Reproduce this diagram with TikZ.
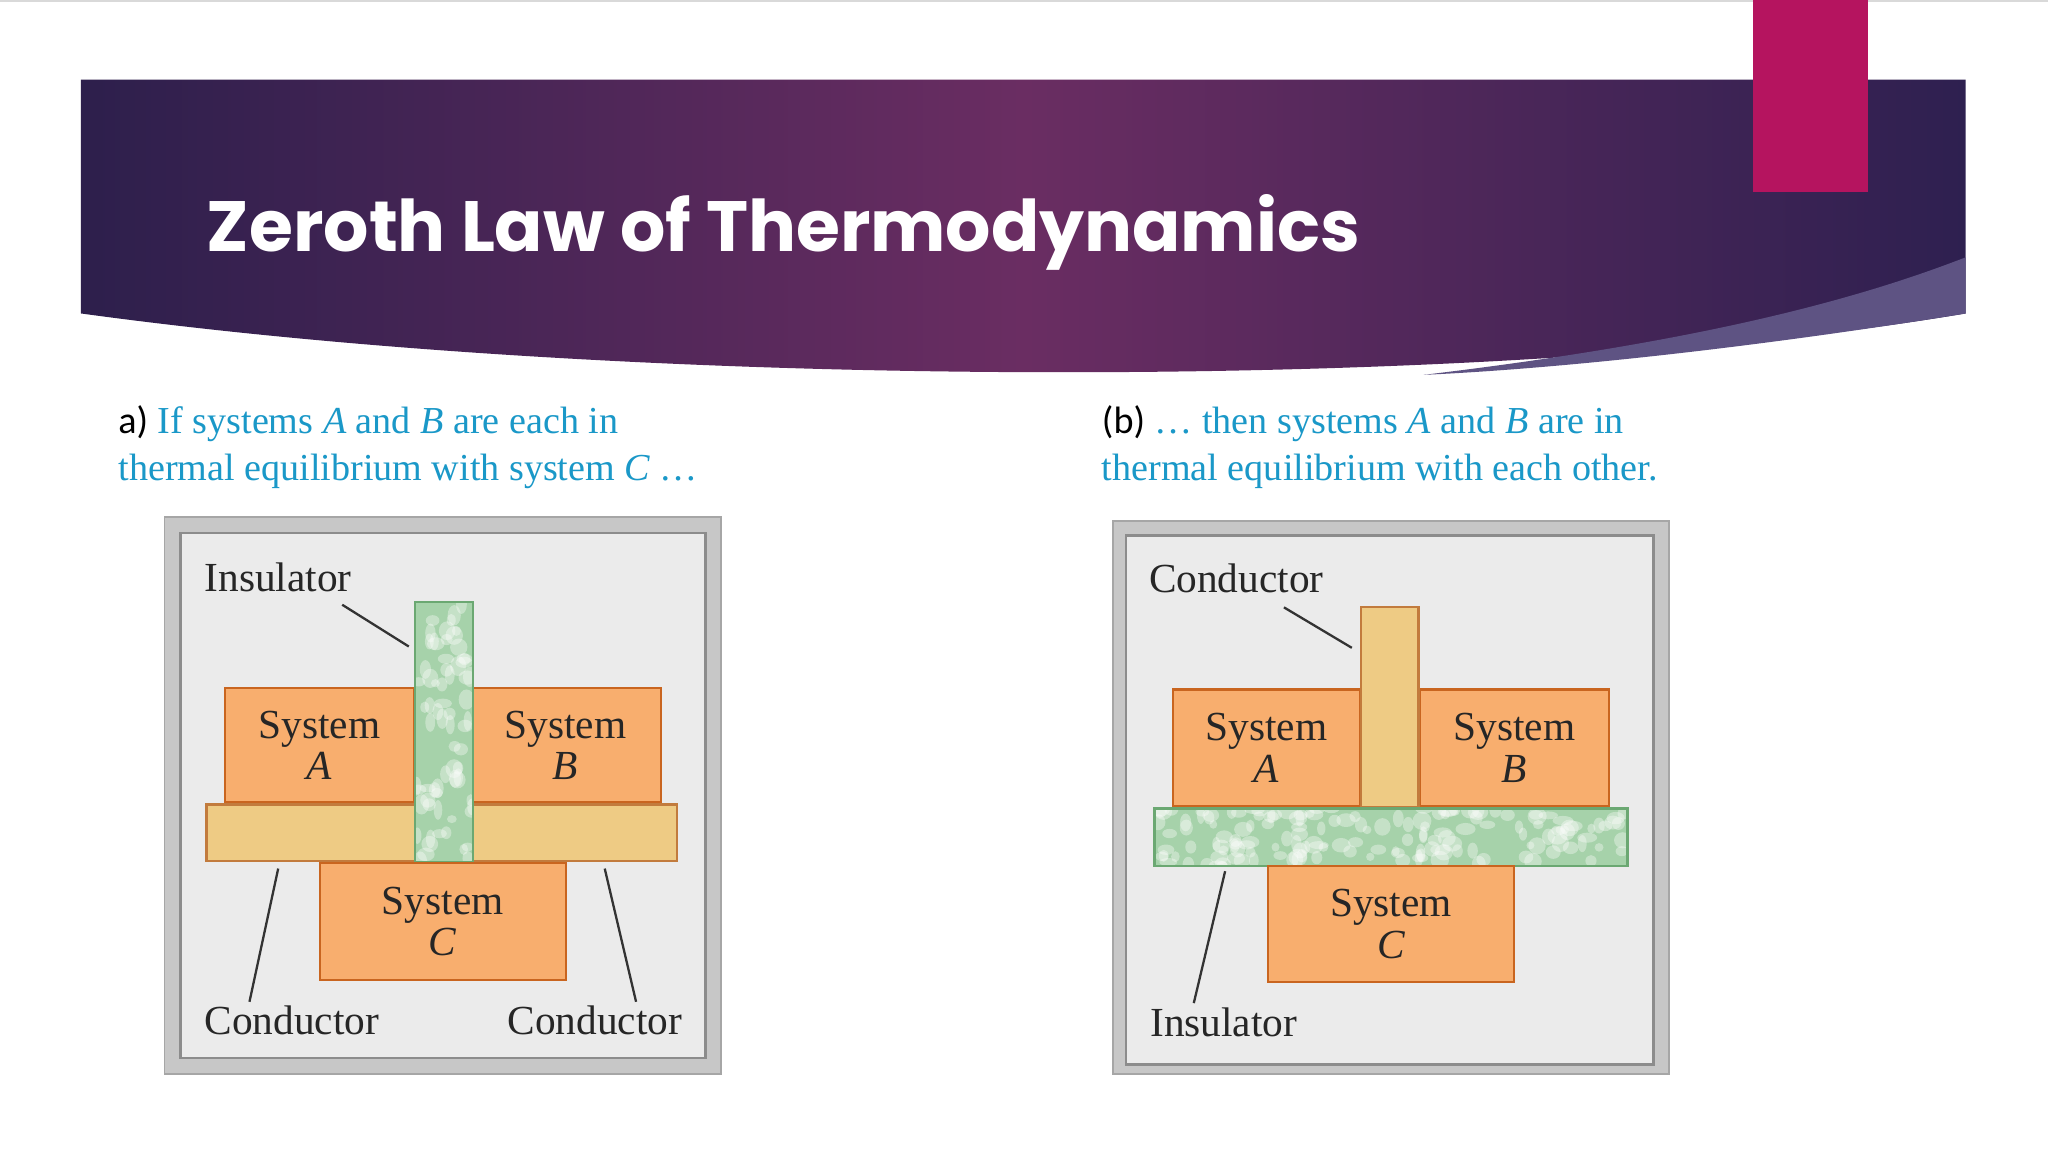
\documentclass[tikz,border=0pt]{standalone}
\usepackage{fontspec}
\setmainfont{Liberation Serif}
\newfontfamily\titlefont{Poppins}
\newfontfamily\calib{Carlito}
\begin{document}
\begin{tikzpicture}[x=0.01cm,y=-0.01cm,
  sysbox/.style={draw=sysedge,fill=sysfill,line width=0.5pt,outer sep=0pt,inner sep=0pt},
  condbar/.style={draw=condedge,fill=condfill,line width=0.5pt,outer sep=0pt,inner sep=0pt},
  insbar/.style={draw=insedge,fill=insfill,line width=0.5pt,outer sep=0pt,inner sep=0pt},
  syslabel/.style={font=\fontsize{9pt}{9pt}\selectfont,align=center,text=black!85},
  lbl/.style={font=\fontsize{9pt}{9pt}\selectfont,text=black!85,anchor=west,inner sep=0},
  leader/.style={draw=black!80,line width=0.5pt},
  captext/.style={font=\fontsize{8.3pt}{10.2pt}\selectfont,text=capblue,anchor=north west,align=left,inner sep=0},
  frameout/.style={fill=black!22,draw=black!35,line width=0.4pt},
  framein/.style={fill=black!8,draw=black!45,line width=0.6pt}]
\definecolor{sysfill}{HTML}{F8AE6E}
\definecolor{sysedge}{HTML}{C9651F}
\definecolor{condfill}{HTML}{EECB84}
\definecolor{condedge}{HTML}{C27B3D}
\definecolor{insfill}{HTML}{A6D2AA}
\definecolor{insedge}{HTML}{6BA872}
\definecolor{capblue}{HTML}{1A98C8}
\definecolor{bandL}{HTML}{2D1F4C}
\definecolor{bandM}{HTML}{6A2D62}
\definecolor{bandR}{HTML}{2E2050}
\definecolor{bandlight}{HTML}{5E5383}
\definecolor{magentabox}{HTML}{B5145F}
\useasboundingbox (0,0) rectangle (1568,882);
\fill[white] (0,0) rectangle (1568,882);
\draw[black!15] (0,0.5) -- (1568,0.5);
% banner
\shade[left color=bandL,right color=bandR,middle color=bandM]
  (62,61) -- (1505,61) -- (1505,240) .. controls (1150,300) and (500,300) .. (62,240) -- cycle;
\fill[bandlight] (1090,287) .. controls (1300,262) and (1420,230) .. (1505,197) -- (1505,240) .. controls (1350,265) and (1200,282) .. (1090,287) -- cycle;
\fill[magentabox] (1342,0) rectangle (1430,147);
\node[anchor=west,text=white,font=\titlefont\bfseries\fontsize{15.5pt}{18pt}\selectfont] (title) at (146,178) {Zeroth Law of Thermodynamics};
% captions
\node[captext] (capa) at (90,310) {{\calib\color{black}a)} If systems \textit{A} and \textit{B} are each in\\thermal equilibrium with system \textit{C} \dots};
\node[captext] (capb) at (843,310) {{\calib\color{black}(b)} \dots\ then systems \textit{A} and \textit{B} are in\\thermal equilibrium with each other.};
% ---- panel a
\draw[frameout] (126,396) rectangle (552,822);
\draw[framein] (138,408) rectangle (540,810);
\node[sysbox,minimum width=1.45cm,minimum height=0.87cm,anchor=north west,syslabel] (sa) at (172,527) {System\\\textit{A}};
\node[sysbox,minimum width=1.46cm,minimum height=0.87cm,anchor=north west,syslabel] (sb) at (360,527) {System\\\textit{B}};
\node[condbar,minimum width=3.6cm,minimum height=0.43cm,anchor=north west] (cbar) at (158,616) {};
\node[insbar,minimum width=0.44cm,minimum height=1.99cm,anchor=north west] (icol) at (318,461) {};
\begin{scope}
\clip (318,461) rectangle (362,660);
\pgfmathsetseed{7}
\foreach \i in {1,...,70}{\fill[white,opacity=0.35] (318+rand*22+22,461+rnd*199) ellipse ({3+rnd*4} and {3+rnd*5});}
\end{scope}
\draw[insedge,line width=0.5pt] (318,461) rectangle (362,660);
\node[sysbox,minimum width=1.88cm,minimum height=0.89cm,anchor=north west,syslabel] (sc) at (245,661) {System\\\textit{C}};
\node[lbl] (ins1) at (156,442) {Insulator};
\node[lbl] (con1) at (156,781) {Conductor};
\node[lbl] (con2) at (388,781) {Conductor};
\coordinate (p1) at (313,495); \coordinate (p1s) at (262,463);
\coordinate (p2) at (213,665); \coordinate (p2s) at (191,767);
\coordinate (p3) at (463,665); \coordinate (p3s) at (487,767);
\draw[leader] (p1s) -- (p1); \draw[leader] (p2) -- (p2s); \draw[leader] (p3) -- (p3s);
% ---- panel b
\draw[frameout] (852,399) rectangle (1278,822);
\draw[framein] (862,410) rectangle (1266,815);
\node[sysbox,minimum width=1.43cm,minimum height=0.89cm,anchor=north west,syslabel] (sa2) at (898,528) {System\\\textit{A}};
\node[sysbox,minimum width=1.45cm,minimum height=0.89cm,anchor=north west,syslabel] (sb2) at (1087,528) {System\\\textit{B}};
\node[condbar,minimum width=0.44cm,minimum height=1.53cm,anchor=north west] (ccol) at (1042,465) {};
\node[insbar,minimum width=3.62cm,minimum height=0.44cm,anchor=north west] (ibar) at (884,619) {};
\begin{scope}
\clip (884,619) rectangle (1246,663);
\pgfmathsetseed{11}
\foreach \i in {1,...,160}{\fill[white,opacity=0.35] (884+rnd*362,641+rand*22) ellipse ({3+rnd*5} and {3+rnd*4});}
\end{scope}
\draw[insedge,line width=0.5pt] (884,619) rectangle (1246,663);
\node[sysbox,minimum width=1.88cm,minimum height=0.89cm,anchor=north west,syslabel] (sc2) at (971,663) {System\\\textit{C}};
\node[lbl] (con3) at (879,443) {Conductor};
\node[lbl] (ins2) at (880,783) {Insulator};
\coordinate (q1) at (1035,496); \coordinate (q1s) at (983,465);
\coordinate (q2) at (938,667); \coordinate (q2s) at (914,768);
\draw[leader] (q1s) -- (q1); \draw[leader] (q2) -- (q2s);
\end{tikzpicture}
\end{document}
